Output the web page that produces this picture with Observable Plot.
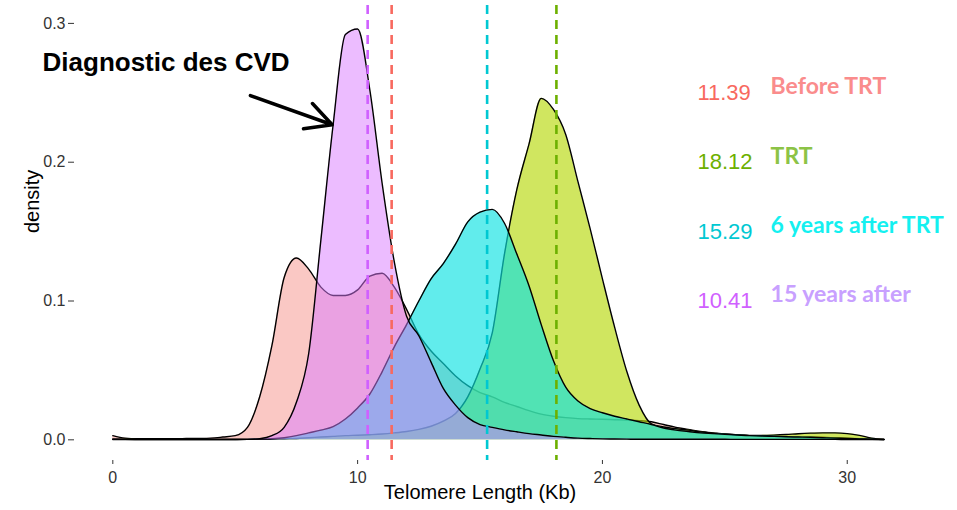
<!DOCTYPE html>
<html><head><meta charset="utf-8">
<script src="https://cdn.jsdelivr.net/npm/d3@7"></script>
<script src="https://cdn.jsdelivr.net/npm/@observablehq/plot@0.6"></script>
<style>body{margin:0;background:#fff} #chart{width:957px;height:510px}</style>
</head><body><div id="chart"></div>
<script>
// x grid (Telomere length, Kb)
const telomereKb = [0,0.5,1,1.5,2,2.5,3,3.5,4,4.5,5,5.5,6,6.5,7,7.5,8,8.5,9,9.5,10,10.5,11,11.5,12,12.5,13,13.5,14,14.5,15,15.5,16,16.5,17,17.5,18,18.5,19,19.5,20,20.5,21,21.5,22,22.5,23,23.5,24,24.5,25,25.5,26,26.5,27,27.5,28,28.5,29,29.5,30,30.5,31,31.5];

// densities
const densBeforeTRT = [0.003,0.0012,0.0008,0.0008,0.0008,0.0008,0.0009,0.001,0.0012,0.002,0.003,0.009,0.031,0.068,0.117,0.131,0.123,0.110,0.104,0.104,0.108,0.118,0.120,0.110,0.094,0.076,0.064,0.055,0.046,0.039,0.034,0.031,0.027,0.024,0.021,0.0185,0.017,0.016,0.0153,0.015,0.0148,0.0145,0.0142,0.0138,0.013,0.011,0.009,0.0075,0.006,0.005,0.0042,0.0036,0.003,0.0027,0.0025,0.0022,0.002,0.002,0.0018,0.0015,0.0012,0.0008,0.0005,0.0002];
const densTRT = [0.0005,0.0004,0.0003,0.0003,0.0003,0.0003,0.0003,0.0003,0.0003,0.0003,0.0003,0.0003,0.0003,0.0005,0.0008,0.001,0.0015,0.002,0.0025,0.003,0.0033,0.0037,0.0042,0.005,0.006,0.0075,0.0098,0.0135,0.019,0.031,0.051,0.077,0.134,0.180,0.213,0.246,0.238,0.220,0.186,0.152,0.116,0.081,0.049,0.025,0.0115,0.0092,0.008,0.007,0.0056,0.0048,0.004,0.0035,0.0032,0.0032,0.0034,0.0038,0.0044,0.0048,0.005,0.005,0.0045,0.0032,0.0012,0.0003];
const dens6yAfter = [0.0002,0.0002,0.0002,0.0002,0.0002,0.0002,0.0002,0.0002,0.0002,0.0002,0.0002,0.0003,0.0005,0.0008,0.0015,0.003,0.005,0.007,0.0095,0.015,0.023,0.033,0.049,0.067,0.083,0.100,0.116,0.127,0.141,0.157,0.164,0.166,0.156,0.134,0.111,0.083,0.057,0.038,0.028,0.0225,0.0195,0.017,0.015,0.013,0.011,0.0085,0.007,0.006,0.005,0.0045,0.004,0.0035,0.003,0.0028,0.0025,0.0022,0.002,0.0018,0.0015,0.0012,0.001,0.0007,0.0004,0.0002];
const dens15yAfter = [0.0005,0.0003,0.0002,0.0002,0.0002,0.0002,0.0002,0.0002,0.0002,0.0002,0.0002,0.0003,0.0008,0.003,0.009,0.027,0.062,0.144,0.227,0.292,0.296,0.252,0.185,0.128,0.089,0.075,0.056,0.037,0.025,0.016,0.011,0.009,0.0072,0.0058,0.0045,0.0035,0.0025,0.0018,0.0012,0.0009,0.0007,0.0006,0.0005,0.0004,0.0004,0.0004,0.0004,0.0004,0.0004,0.0004,0.0004,0.0003,0.0003,0.0003,0.0003,0.0003,0.0003,0.0003,0.0003,0.0003,0.0002,0.0002,0.0002,0.0002];

const groups = ["Before TRT", "TRT", "6 years after TRT", "15 years after"];
const means = [11.39, 18.12, 15.29, 10.41];
const meanLabels = ["11.39", "18.12", "15.29", "10.41"];
const annotRowY = [0.25, 0.20, 0.15, 0.10];
const xTicks = [0, 10, 20, 30];
const yTicks = [0, 0.1, 0.2, 0.3];
const title = "Diagnostic des CVD";
const xLabel = "Telomere Length (Kb)";
const yLabel = "density";

// styles
const fillColors = ["#F5918A", "#B7D90A", "#0DE2E2", "#DA7AFF"];
const fillAlpha = [0.5, 0.65, 0.65, 0.5];
const lineColors = ["#F8695F", "#6DB000", "#00C8D2", "#D060FF"];
const labelColors = ["#FA8C8C", "#8CC346", "#14F0F0", "#C8A0FF"];

const series = [densBeforeTRT, densTRT, dens6yAfter, dens15yAfter];
const rows = groups.map((g, gi) => telomereKb.map((x, i) => ({x, density: series[gi][i], group: g})));
const meanRows = groups.map((g, i) => ({group: g, mean: means[i], label: meanLabels[i], ay: annotRowY[i], i}));

const curveMarks = rows.flatMap((r, gi) => [
  Plot.areaY(r, {x: "x", y: "density", fill: fillColors[gi], fillOpacity: fillAlpha[gi], curve: "monotone-x"}),
  Plot.lineY(r, {x: "x", y: "density", stroke: "#000", strokeWidth: 1.4, curve: "monotone-x"})
]);

const chart = Plot.plot({
  width: 957, height: 510,
  marginLeft: 74, marginRight: 40, marginTop: 5, marginBottom: 50,
  style: {fontFamily: "'Liberation Sans', Arial, sans-serif", background: "#fff"},
  x: {domain: [-1.565, 32.87], axis: null},
  y: {domain: [-0.0149, 0.3129], axis: null},
  marks: [
    ...curveMarks,
    Plot.ruleX(meanRows, {x: "mean", stroke: d => lineColors[d.i], strokeWidth: 2.6, strokeDasharray: "9,6"}),
    Plot.axisX({ticks: xTicks, tickSize: 4, tickPadding: 7, fontSize: 16, color: "#333", label: null}),
    Plot.axisY({ticks: yTicks, tickFormat: d3.format(".1f"), tickSize: 6, tickPadding: 3, fontSize: 16, color: "#333", label: null}),
    Plot.text([xLabel], {text: d => d, frameAnchor: "bottom", dy: 38, dx: -16, fontSize: 20, fill: "#000"}),
    Plot.text([yLabel], {text: d => d, frameAnchor: "left", dx: -42, rotate: -90, fontSize: 20, fill: "#000"}),
    Plot.text([title], {text: d => d, x: () => -2.87, y: () => 0.2715, textAnchor: "start", fontSize: 26, fontWeight: "bold", fill: "#000"}),
    Plot.arrow([{x1: 5.62, y1: 0.248, x2: 8.96, y2: 0.227}], {x1: "x1", y1: "y1", x2: "x2", y2: "y2", stroke: "#000", strokeWidth: 3.5, headLength: 18, headAngle: 55}),
    Plot.text(meanRows, {x: () => 23.88, y: "ay", text: "label", textAnchor: "start", fontSize: 22, fill: d => lineColors[d.i]}),
    Plot.text(meanRows, {x: () => 26.87, y: "ay", text: "group", textAnchor: "start", dy: -6, fontSize: 23, fontWeight: "bold", fontFamily: "Lato, 'Open Sans', sans-serif", fill: d => labelColors[d.i]})
  ]
});
document.getElementById("chart").appendChild(chart);
</script>
</body></html>
